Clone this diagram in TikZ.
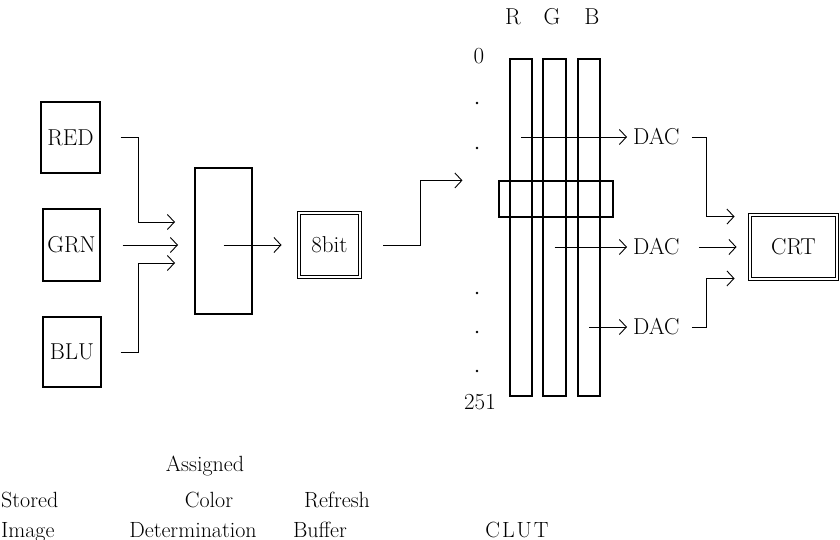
\documentclass[tikz,border=0pt]{standalone}
\usetikzlibrary{arrows.meta}
\begin{document}
\begin{tikzpicture}[x=1pt,y=-1pt,
  every node/.style={font=\fontsize{23}{27}\selectfont},
  boxy/.style={draw,line width=1.1pt,inner sep=0pt,minimum width=#1},
  dbox/.style={draw,double,double distance=2.6pt,line width=0.9pt,inner sep=0pt},
  colbox/.style={draw,line width=1.1pt,inner sep=0pt,minimum height=337pt},
  arr/.style={line width=0.9pt,-{Straight Barb[length=7pt,width=15pt,line width=0.9pt]}},
  daclab/.style={anchor=west,inner xsep=6pt,inner ysep=0pt},
  lab/.style={font=\fontsize{22}{26}\selectfont,anchor=base,inner sep=0pt}]
\useasboundingbox (0,0) rectangle (840,540);

% stored image
\node[boxy=59pt,minimum height=71pt] (red) at (70.5,137.5) {RED};
\node[boxy=57pt,minimum height=72pt] (grn) at (71.5,245) {GRN};
\node[boxy=58pt,minimum height=70pt] (blu) at (72,352) {BLU};

% assigned colour determination
\node[boxy=57pt,minimum height=146pt] (acd) at (223.5,241) {};

% refresh buffer
\node[dbox,minimum width=61pt,minimum height=64pt] (fb) at (329.5,245) {8bit};

% CLUT columns
\node[colbox,minimum width=22pt] (colR) at (521,227.5) {};
\node[colbox,minimum width=23pt] (colG) at (554.5,227.5) {};
\node[colbox,minimum width=22pt] (colB) at (589,227.5) {};
\node[draw,line width=1.1pt,inner sep=0pt,minimum width=114pt,minimum height=36pt] (band) at (556,199) {};

\node (lR) at (513,17) {R};
\node (lG) at (552,17) {G};
\node (lB) at (592,17) {B};
\node (n0) at (479,56) {0};
\node (n251) at (480,402) {251};
\foreach \yy in {103,148,293,332,371} \fill (477,\yy) circle (1.4pt);

% DACs
\node[daclab] (dac1) at (627,137) {DAC};
\node[daclab] (dac2) at (627,247) {DAC};
\node[daclab] (dac3) at (627,327) {DAC};

% CRT
\node[dbox,minimum width=87pt,minimum height=64pt] (crt) at (793.5,247) {CRT};

% coordinates
\coordinate (inR) at (175,222);
\coordinate (inG) at (178,245);
\coordinate (inB) at (175,263);

% connectors
\draw[arr] ([xshift=20pt]red.east) -- ++(18,0) |- (inR);
\draw[arr] ([xshift=22pt]grn.east) -- (inG);
\draw[arr] ([xshift=19pt]blu.east) -- ++(18,0) |- (inB);
\draw[arr] (acd.center |- grn.east) -- ([xshift=-17pt]fb.west);
\draw[arr] ([xshift=23pt]fb.east) -- ++(37,0) |- ([xshift=-36pt]band.north west);

\draw[arr] (colR.center |- dac1.west) -- (dac1.west);
\draw[arr] (colG.center |- dac2.west) -- (dac2.west);
\draw[arr] (colB.center |- dac3.west) -- (dac3.west);

\draw[arr] ([xshift=6pt]dac1.east) -- ++(15,0) |- ([xshift=-15pt,yshift=-2pt]crt.north west);
\draw[arr] ([xshift=13pt]dac2.east) -- ([xshift=-13pt]crt.west);
\draw[arr] ([xshift=6pt]dac3.east) -- ++(15,0) |- ([xshift=-15pt,yshift=1pt]crt.south west);

% bottom labels
\node[lab] (as) at (205,471) {Assigned};
\node[lab,anchor=base west] (st) at (1,507) {Stored};
\node[lab] (co) at (209,507) {Color};
\node[lab] (re) at (337,507) {Refresh};
\node[lab,anchor=base west] (im) at (1,537) {Image};
\node[lab] (de) at (193,537) {Determination};
\node[lab] (bu) at (320,537) {Buffer};
\node[lab] (cl) at (517,537) {C\kern2pt L\kern2pt U\kern2pt T};
\end{tikzpicture}
\end{document}
